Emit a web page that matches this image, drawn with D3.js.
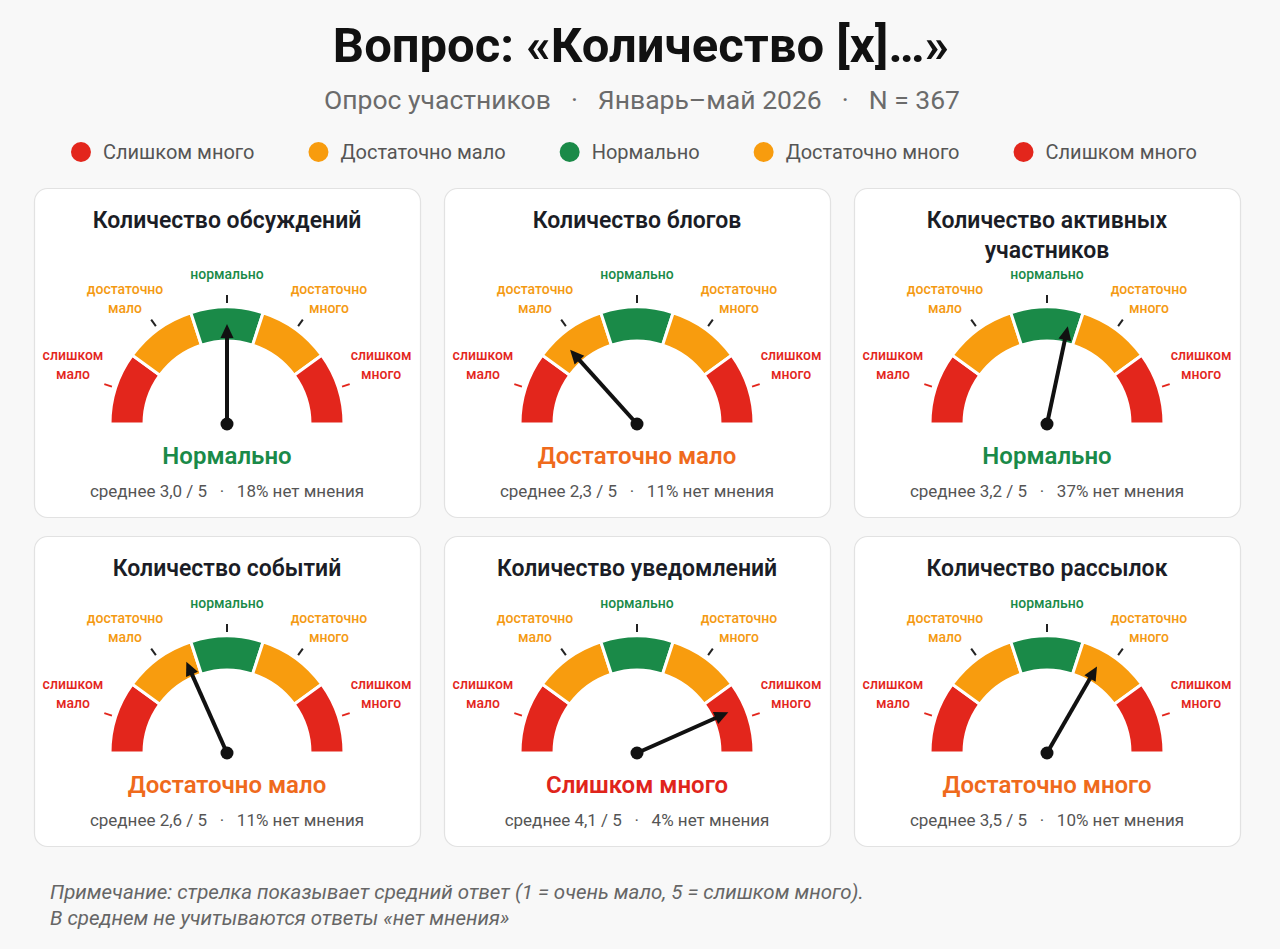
<!DOCTYPE html>
<html lang="ru">
<head>
<meta charset="utf-8">
<title>Вопрос: «Количество [x]…»</title>
<script src="https://cdn.jsdelivr.net/npm/d3@7"></script>
<style>
  html, body { margin: 0; padding: 0; background: #f8f8f8; }
  svg { display: block; font-family: Roboto, "Noto Sans", "DejaVu Sans", sans-serif; }
</style>
</head>
<body>
<div id="chart"></div>
<script>
// --- data ---
const titles = [
  'Количество обсуждений', 'Количество блогов', 'Количество активных участников',
  'Количество событий', 'Количество уведомлений', 'Количество рассылок'
];
const means = [3.0, 2.3, 3.2, 2.6, 4.1, 3.5];
const noOpinion = [18, 11, 37, 11, 4, 10];
const verdicts = [2, 1, 2, 1, 4, 3];   // index into zones
const zoneLabels = [
  ['слишком', 'мало'], ['достаточно', 'мало'], ['нормально'],
  ['достаточно', 'много'], ['слишком', 'много']
];
const verdictLabels = ['Слишком мало', 'Достаточно мало', 'Нормально', 'Достаточно много', 'Слишком много'];
const legendLabels = ['Слишком много', 'Достаточно мало', 'Нормально', 'Достаточно много', 'Слишком много'];

const title = 'Вопрос: «Количество [x]…»';
const subtitleParts = ['Опрос участников', 'Январь–май 2026', 'N = 367'];
const noteLines = [
  'Примечание: стрелка показывает средний ответ (1 = очень мало, 5 = слишком много).',
  'В среднем не учитываются ответы «нет мнения»'
];

// --- styles ---
const zoneColor = ['#e3261c', '#f89c0e', '#1a8a48', '#f89c0e', '#e3261c'];
const zoneTextColor = ['#e3261c', '#f49a12', '#1a8a48', '#f49a12', '#e3261c'];
const verdictColor = ['#e0241b', '#ef6a1c', '#1a8a48', '#ef6a1c', '#e0241b'];
const tickColor = ['#e3261c', '#222', '#222', '#222', '#e3261c'];

const W = 1280, H = 949;
const svg = d3.select('#chart').append('svg')
  .attr('width', W).attr('height', H).attr('viewBox', `0 0 ${W} ${H}`);

svg.append('rect').attr('width', W).attr('height', H).attr('fill', '#f8f8f8');

// title + subtitle
svg.append('text')
  .attr('x', 641).attr('y', 62).attr('text-anchor', 'middle')
  .style('font-size', '49px').style('font-weight', 700).style('fill', '#111')
  .text(title);

const sub = svg.append('g').style('font-size', '26.5px').style('fill', '#6b6b6b');
const subTexts = [];
subtitleParts.forEach((p, i) => {
  if (i > 0) subTexts.push(sub.append('text').text('·'));
  subTexts.push(sub.append('text').text(p));
});
const subGap = 20;
const subW = d3.sum(subTexts, t => t.node().getComputedTextLength()) + subGap * (subTexts.length - 1);
let sx = 642 - subW / 2;
subTexts.forEach(t => {
  t.attr('x', sx).attr('y', 109);
  sx += t.node().getComputedTextLength() + subGap;
});

// legend
const legend = svg.append('g');
const legItems = legendLabels.map((lab, i) => {
  const g = legend.append('g');
  g.append('circle').attr('r', 10).attr('cx', 10).attr('cy', 0).attr('fill', zoneColor[i]);
  const t = g.append('text').attr('x', 32).attr('y', 7)
    .style('font-size', '20px').style('fill', '#555').text(lab);
  return { g, w: 32 + t.node().getComputedTextLength() };
});
const legGap = 54;
const legW = d3.sum(legItems, d => d.w) + legGap * (legItems.length - 1);
let lx = 634 - legW / 2;
legItems.forEach(d => {
  d.g.attr('transform', `translate(${lx},152)`);
  lx += d.w + legGap;
});

// gauge geometry
const rInner = 83, rOuter = 117;
const zoneBand = d3.scaleBand().domain(d3.range(zoneLabels.length))
  .range([-Math.PI / 2, Math.PI / 2]);
const needleAngle = d3.scaleLinear().domain([1.5, 4.5])
  .range([-Math.PI / 2, Math.PI / 2]).clamp(true);
const arc = d3.arc().innerRadius(rInner).outerRadius(rOuter);
const labelNudge = [3, -3, 0, 3, -3].map(d => d * Math.PI / 180);
const labelR = [165, 162, 150, 162, 165];
const polar = (a, r) => [Math.sin(a) * r, -Math.cos(a) * r];

// card layout
const cols = 3;
const cardW = 386, colX = [34, 444, 854];
const rowTop = [188, 536];
const fmt = v => v.toFixed(1).replace('.', ',');

function wrapLines(text, maxW, measure) {
  const words = text.split(' ');
  const lines = [];
  let line = words[0];
  for (let i = 1; i < words.length; i++) {
    const test = line + ' ' + words[i];
    if (measure(test) > maxW) { lines.push(line); line = words[i]; } else line = test;
  }
  lines.push(line);
  return lines;
}

const measurer = svg.append('text').style('font-size', '23px').style('font-weight', 600);
const measure = s => measurer.text(s).node().getComputedTextLength();
const titleLines = titles.map(t => wrapLines(t, 310, measure));
measurer.remove();

const rowExtra = d3.range(2).map(r =>
  d3.max(titleLines.slice(r * cols, r * cols + cols), l => l.length) > 1 ? 19 : 0);

titles.forEach((t, i) => {
  const row = Math.floor(i / cols), col = i % cols;
  const x0 = colX[col], y0 = rowTop[row];
  const h = 310 + rowExtra[row];
  const cx = x0 + cardW / 2, bottom = y0 + h;
  const g = svg.append('g');

  g.append('rect').attr('x', x0 + 0.5).attr('y', y0 + 0.5)
    .attr('width', cardW).attr('height', h).attr('rx', 13)
    .attr('fill', '#fff').attr('stroke', '#e2e2e2').attr('stroke-width', 1.2);

  const tt = g.append('text').attr('text-anchor', 'middle')
    .style('font-size', '23px').style('font-weight', 600).style('fill', '#1b1d26');
  titleLines[i].forEach((l, k) => {
    tt.append('tspan').attr('x', cx).attr('y', y0 + 40 + k * 30).text(l);
  });

  const py = bottom - 93;
  const gauge = g.append('g').attr('transform', `translate(${cx},${py})`);

  gauge.selectAll('path.zone').data(zoneBand.domain()).join('path')
    .attr('class', 'zone')
    .attr('d', d => arc({ startAngle: zoneBand(d), endAngle: zoneBand(d) + zoneBand.bandwidth() }))
    .attr('fill', d => zoneColor[d])
    .attr('stroke', '#fff').attr('stroke-width', 3);

  gauge.selectAll('line.tick').data(zoneBand.domain()).join('line')
    .attr('class', 'tick')
    .each(function (d) {
      const a = zoneBand(d) + zoneBand.bandwidth() / 2;
      const [x1, y1] = polar(a, 121), [x2, y2] = polar(a, 129);
      d3.select(this).attr('x1', x1).attr('y1', y1).attr('x2', x2).attr('y2', y2);
    })
    .attr('stroke', d => tickColor[d]).attr('stroke-width', 2);

  gauge.selectAll('text.zl').data(zoneBand.domain()).join('text')
    .attr('class', 'zl').attr('text-anchor', 'middle')
    .style('font-size', '14px').style('font-weight', 500)
    .style('fill', d => zoneTextColor[d])
    .each(function (d) {
      const a = zoneBand(d) + zoneBand.bandwidth() / 2 + labelNudge[d];
      const [x, y] = polar(a, labelR[d]);
      const lines = zoneLabels[d];
      const y1 = lines.length > 1 ? y - 4.5 : y + 5;
      d3.select(this).selectAll('tspan').data(lines).join('tspan')
        .attr('x', x).attr('y', (l, k) => y1 + k * 19).text(l => l);
    });

  // needle
  const a = needleAngle(means[i]);
  const len = 100, head = 14, hw = 6.5;
  const [tx, ty] = polar(a, len);
  const [bx, by] = polar(a, len - head);
  const [lx2, ly2] = polar(a, len - head + 2);
  const px = Math.cos(a) * hw, pyy = Math.sin(a) * hw;
  gauge.append('line').attr('x1', 0).attr('y1', 0).attr('x2', lx2).attr('y2', ly2)
    .attr('stroke', '#111').attr('stroke-width', 4);
  gauge.append('path')
    .attr('d', d3.line()([[tx, ty], [bx + px, by + pyy], [bx - px, by - pyy]]) + 'Z')
    .attr('fill', '#111');
  gauge.append('circle').attr('r', 6.5).attr('fill', '#111');

  g.append('text').attr('x', cx).attr('y', bottom - 53).attr('text-anchor', 'middle')
    .style('font-size', '24px').style('font-weight', 600).style('fill', verdictColor[verdicts[i]])
    .text(verdictLabels[verdicts[i]]);

  g.append('text').attr('x', cx).attr('y', bottom - 20).attr('text-anchor', 'middle')
    .attr('xml:space', 'preserve')
    .style('font-size', '17px').style('fill', '#555').style('white-space', 'pre')
    .text(`среднее ${fmt(means[i])} / 5   ·   ${noOpinion[i]}% нет мнения`);
});

// note
svg.append('g').selectAll('text').data(noteLines).join('text')
  .attr('x', 50).attr('y', (d, i) => 899 + i * 26)
  .style('font-size', '20.5px').style('font-style', 'italic').style('fill', '#666')
  .text(d => d);
</script>
</body>
</html>
